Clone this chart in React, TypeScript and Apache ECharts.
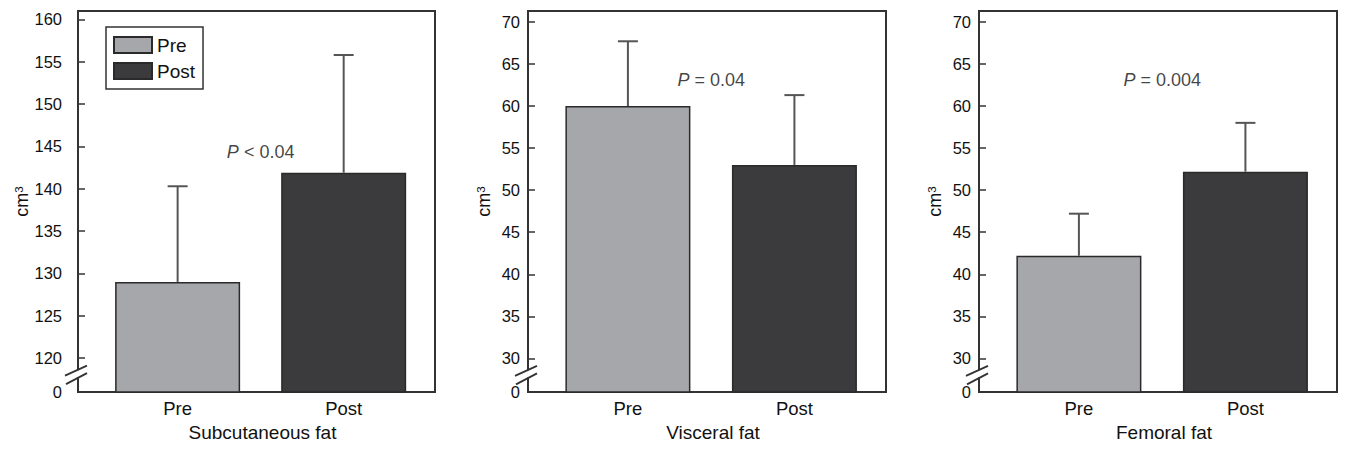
import React, { useEffect, useRef } from "react";
import * as echarts from "echarts";

// ---- data ----
const categories = ["Pre", "Post"];
const panelTitles = ["Subcutaneous fat", "Visceral fat", "Femoral fat"];
const preMeans = [129.0, 60.0, 42.2];
const postMeans = [141.9, 53.0, 52.2];
const preErrTop = [140.3, 67.7, 47.2];
const postErrTop = [155.8, 61.3, 58.0];
const pLabels = ["{i|P} < 0.04", "{i|P} = 0.04", "{i|P} = 0.004"];
const yTicksSub = [120, 125, 130, 135, 140, 145, 150, 155, 160];
const yTicksVisFem = [30, 35, 40, 45, 50, 55, 60, 65, 70];
const yTickSets = [yTicksSub, yTicksVisFem, yTicksVisFem];
const yBreakFloor = [116, 26, 26]; // axis bottom, labelled "0" (broken axis)
const yTop = [161, 71.3, 71.3];

// ---- layout ----
const grids = [
  { left: 78, top: 11, width: 357, height: 381 },
  { left: 528, top: 11, width: 358, height: 381 },
  { left: 979, top: 11, width: 358, height: 381 },
];
const pLabelY = [144.4, 63.1, 63.1];
const yLabelMargin = [16, 8, 8];
const yNameGap = [46, 35, 35];
const FONT = "'Liberation Sans', Arial, Helvetica, sans-serif";
const INK = "#111111";
const FRAME = "#333333";

export default function App() {
  const ref = useRef<HTMLDivElement>(null);

  useEffect(() => {
    if (!ref.current) return;
    const chart = echarts.init(ref.current, null, { renderer: "svg" });

    const xAxis: any[] = [];
    const yAxis: any[] = [];
    const series: any[] = [];

    grids.forEach((_, i) => {
      xAxis.push({
        gridIndex: i,
        type: "value",
        min: -0.6,
        max: 1.55,
        axisLine: { show: true, onZero: false, lineStyle: { color: FRAME, width: 2 } },
        axisTick: { show: false },
        splitLine: { show: false },
        axisLabel: {
          customValues: [0, 1],
          formatter: (v: number) => categories[Math.round(v)] ?? "",
          fontSize: 18.5,
          color: INK,
          fontFamily: FONT,
          margin: 7,
        },
        name: panelTitles[i],
        nameLocation: "middle",
        nameGap: 31,
        nameTextStyle: { fontSize: 19, color: INK, fontFamily: FONT, padding: [0, 0, 0, 12] },
      });
      const floor = yBreakFloor[i];
      yAxis.push({
        gridIndex: i,
        type: "value",
        min: floor,
        max: yTop[i],
        axisLine: { show: true, onZero: false, lineStyle: { color: FRAME, width: 2 } },
        axisTick: {
          show: true,
          inside: true,
          length: 7,
          customValues: yTickSets[i],
          lineStyle: { color: FRAME, width: 1.5 },
        },
        axisLabel: {
          customValues: [floor, ...yTickSets[i]],
          formatter: (v: number) => (Math.abs(v - floor) < 1e-6 ? "0" : String(v)),
          fontSize: 16.5,
          color: INK,
          fontFamily: FONT,
          margin: yLabelMargin[i],
          showMinLabel: true,
          showMaxLabel: true,
        },
        splitLine: { show: false },
        name: "cm{s|3}",
        nameLocation: "middle",
        nameGap: yNameGap[i],
        nameRotate: 90,
        nameTextStyle: {
          fontSize: 18,
          color: INK,
          fontFamily: FONT,
          rich: { s: { fontSize: 11.5, color: INK, fontFamily: FONT, verticalAlign: "top" } },
        },
      });

      series.push({
        name: "Pre",
        type: "bar",
        xAxisIndex: i,
        yAxisIndex: i,
        barWidth: 125,
        barGap: "-100%",
        data: [[0, preMeans[i]]],
        itemStyle: { color: "#a6a7aa", borderColor: "#2a2a2a", borderWidth: 1.5 },
        silent: true,
      });
      series.push({
        name: "Post",
        type: "bar",
        xAxisIndex: i,
        yAxisIndex: i,
        barWidth: 125,
        barGap: "-100%",
        data: [[1, postMeans[i]]],
        itemStyle: { color: "#3b3b3d", borderColor: "#2a2a2a", borderWidth: 1.5 },
        silent: true,
      });
      series.push({
        name: "err" + i,
        type: "custom",
        xAxisIndex: i,
        yAxisIndex: i,
        silent: true,
        z: 5,
        encode: { x: 0, y: [1, 2] },
        data: [
          [0, preMeans[i], preErrTop[i]],
          [1, postMeans[i], postErrTop[i]],
        ],
        renderItem: (_p: any, api: any) => {
          const x = api.value(0);
          const lo = api.coord([x, api.value(1)]);
          const hi = api.coord([x, api.value(2)]);
          const cap = 10;
          const st = { stroke: "#555", lineWidth: 2 };
          return {
            type: "group",
            children: [
              { type: "line", shape: { x1: lo[0], y1: lo[1], x2: hi[0], y2: hi[1] }, style: st },
              { type: "line", shape: { x1: hi[0] - cap, y1: hi[1], x2: hi[0] + cap, y2: hi[1] }, style: st },
            ],
          };
        },
      });
      series.push({
        name: "p" + i,
        type: "scatter",
        xAxisIndex: i,
        yAxisIndex: i,
        symbolSize: 0,
        silent: true,
        data: [[0.5, pLabelY[i]]],
        label: {
          show: true,
          position: "inside",
          formatter: pLabels[i],
          fontSize: 18,
          color: INK,
          fontFamily: FONT,
          rich: { i: { fontStyle: "italic", fontSize: 18, color: INK, fontFamily: FONT } },
        },
      });
    });

    chart.setOption({
      animation: false,
      backgroundColor: "#fff",
      grid: grids.map((g) => ({
        ...g,
        show: true,
        borderColor: FRAME,
        borderWidth: 2,
        backgroundColor: "transparent",
        containLabel: false,
      })),
      legend: {
        data: ["Pre", "Post"],
        orient: "vertical",
        left: 106,
        top: 27,
        padding: [8, 8, 8, 7],
        itemGap: 6,
        itemWidth: 38,
        itemHeight: 16,
        icon: "rect",
        borderColor: FRAME,
        borderWidth: 1.5,
        selectedMode: false,
        textStyle: { fontSize: 19, color: INK, fontFamily: FONT, lineHeight: 20 },
      },
      xAxis,
      yAxis,
      series,
    });

    // axis-break marks ("//") between the "0" label and the first tick
    const graphic: any[] = [];
    grids.forEach((_, i) => {
      const p = chart.convertToPixel({ gridIndex: i } as any, [-0.6, yTickSets[i][0]]) as number[];
      if (!p) return;
      const ax = p[0];
      const y = p[1];
      graphic.push({
        type: "rect",
        z: 100,
        shape: { x: ax - 3, y: y + 12, width: 6, height: 7 },
        style: { fill: "#fff" },
      });
      graphic.push({
        type: "line",
        z: 101,
        shape: { x1: ax - 13, y1: y + 17.5, x2: ax + 9, y2: y + 7.5 },
        style: { stroke: FRAME, lineWidth: 1.8 },
      });
      graphic.push({
        type: "line",
        z: 101,
        shape: { x1: ax - 12, y1: y + 26, x2: ax + 9, y2: y + 15 },
        style: { stroke: FRAME, lineWidth: 1.8 },
      });
    });
    chart.setOption({ graphic });

    return () => chart.dispose();
  }, []);

  return (
    <div
      ref={ref}
      style={{ position: "fixed", left: 0, top: 0, width: 1347, height: 450, background: "#fff" }}
    />
  );
}
